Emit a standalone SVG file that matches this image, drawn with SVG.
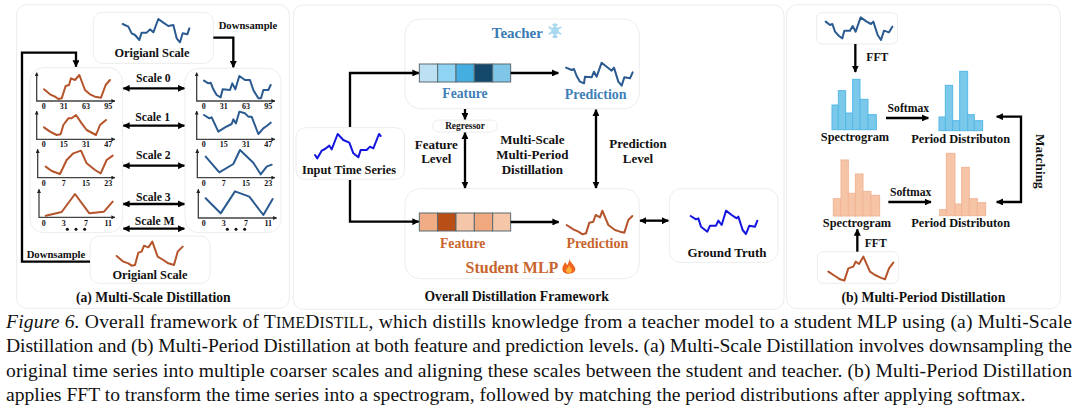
<svg xmlns="http://www.w3.org/2000/svg" width="1080" height="413" viewBox="0 0 1080 413">
<style>
text{font-family:"Liberation Serif","Times New Roman",serif;font-weight:bold;fill:#111;text-anchor:middle}
.p{fill:#fff;stroke:#ebebeb;stroke-width:3}
.b{fill:#fff;stroke:#ececec;stroke-width:3}
.t{font-size:37px}
.s{font-size:35px}
.k{font-size:24px}
.d{font-size:32px}
.l{font-size:39px}
.m{font-size:37px}
.h{font-size:41px}
.hb{fill:#3f7fb8;font-size:41px}
.ho{fill:#c8652e;font-size:41px}
.tb{fill:none;stroke:#2a5a90;stroke-width:6;stroke-linejoin:round;stroke-linecap:round}
.so{fill:none;stroke:#b5532a;stroke-width:6;stroke-linejoin:round;stroke-linecap:round}
.in{fill:none;stroke:#1414e0;stroke-width:6;stroke-linejoin:round;stroke-linecap:round}
.ax{fill:none;stroke:#444;stroke-width:4;marker-start:url(#ah);marker-end:url(#ah)}
.c{fill:none;stroke:#000;stroke-width:7}
.e{marker-end:url(#a)}
.w{marker-start:url(#a);marker-end:url(#a)}
.bb{fill:#7ac8ea;stroke:#56b9e6;stroke-width:3}
.bo{fill:#f6c5a8;stroke:#f2b596;stroke-width:3}
.cell{stroke:#5a6a70;stroke-width:3}
.cap{font-size:19.6px;font-weight:normal;text-anchor:start;fill:#111}
</style>
<defs>
<marker id="a" viewBox="0 0 10 10" refX="9" refY="5" markerWidth="3" markerHeight="3" orient="auto-start-reverse"><path d="M0 0L10 5L0 10Z" fill="#000"/></marker>
<marker id="ah" viewBox="0 0 10 10" refX="9" refY="5" markerWidth="3" markerHeight="3" orient="auto-start-reverse"><path d="M0 0L10 5L0 10Z" fill="#222"/></marker>
</defs>
<rect width="1080" height="413" fill="#fff"/>

<g transform="scale(.33333)">
<rect class="p" x="50" y="14" width="818" height="911" rx="30"/>
<g id="orig-top"><rect class="b" x="280" y="37" width="360" height="153" rx="28"/>
<polyline class="tb" points="368,72 385,80 395,100 405,105 418,120 425,98 440,98 450,88 460,97 475,57 490,68 505,78 520,75 530,115 540,127 548,100 562,103 568,85"/>
<text class="t" x="456" y="170">Origianl Scale</text></g>
<g id="student-scales"><rect class="b" x="90" y="203" width="277" height="495" rx="40"/>
<path class="ax" d="M110 218V303H345"/><path class="ax" d="M110 333V418H345"/><path class="ax" d="M113 448V533H345"/><path class="ax" d="M117 568V652H345"/>
<polyline class="so" points="132,268 150,283 165,290 175,297 185,295 197,258 207,255 213,235 225,240 238,225 255,270 270,283 285,290 303,293 317,255 330,240"/>
<polyline class="so" points="132,382 150,395 170,405 182,403 190,375 205,355 215,355 228,345 245,370 260,390 288,405 300,375 318,360"/>
<polyline class="so" points="137,500 155,513 180,522 200,480 220,460 243,452 260,490 285,510 302,520 320,480 338,467"/>
<polyline class="so" points="137,647 185,636 225,582 268,640 312,635 338,605"/>
<text class="k" x="131" y="327">0</text><text class="k" x="191" y="327">31</text><text class="k" x="258" y="327">63</text><text class="k" x="325" y="327">95</text>
<text class="k" x="131" y="440">0</text><text class="k" x="191" y="440">15</text><text class="k" x="258" y="440">31</text><text class="k" x="325" y="440">47</text>
<text class="k" x="131" y="557">0</text><text class="k" x="191" y="557">7</text><text class="k" x="258" y="557">15</text><text class="k" x="325" y="557">23</text>
<text class="k" x="131" y="677">0</text><text class="k" x="191" y="677">3</text><text class="k" x="258" y="677">7</text><text class="k" x="325" y="677">11</text>
<circle cx="202" cy="688" r="4.5" fill="#111"/><circle cx="228" cy="688" r="4.5" fill="#111"/><circle cx="254" cy="688" r="4.5" fill="#111"/></g>
<g id="teacher-scales"><rect class="b" x="555" y="205" width="288" height="493" rx="40"/>
<path class="ax" d="M590 218V303H825"/><path class="ax" d="M590 333V418H825"/><path class="ax" d="M592 448V533H825"/><path class="ax" d="M595 568V654H830"/>
<polyline class="tb" points="612,242 625,250 632,248 640,268 650,285 662,292 668,268 690,270 697,250 706,268 718,228 735,240 750,240 760,270 775,295 783,295 790,270 805,270 812,255"/>
<polyline class="tb" points="612,345 628,355 635,352 655,395 675,382 695,372 700,358 708,370 718,335 735,340 745,350 755,350 775,402 790,385 800,378 812,368"/>
<polyline class="tb" points="617,470 658,517 700,492 720,450 760,488 782,523 800,500 815,494"/>
<polyline class="tb" points="617,595 662,640 705,574 748,590 790,645 818,597"/>
<text class="k" x="611" y="327">0</text><text class="k" x="671" y="327">31</text><text class="k" x="738" y="327">63</text><text class="k" x="805" y="327">95</text>
<text class="k" x="611" y="440">0</text><text class="k" x="671" y="440">15</text><text class="k" x="738" y="440">31</text><text class="k" x="805" y="440">47</text>
<text class="k" x="611" y="557">0</text><text class="k" x="671" y="557">7</text><text class="k" x="738" y="557">15</text><text class="k" x="805" y="557">23</text>
<text class="k" x="611" y="677">0</text><text class="k" x="671" y="677">3</text><text class="k" x="738" y="677">7</text><text class="k" x="805" y="677">11</text>
<circle cx="682" cy="688" r="4.5" fill="#111"/><circle cx="708" cy="688" r="4.5" fill="#111"/><circle cx="734" cy="688" r="4.5" fill="#111"/></g>
<g id="orig-bottom"><rect class="b" x="270" y="708" width="360" height="142" rx="28"/>
<polyline class="so" points="350,768 370,785 385,790 395,797 405,795 415,758 425,755 432,737 445,742 457,725 473,770 490,780 505,790 522,795 533,755 548,740"/>
<text class="t" x="450" y="838">Origianl Scale</text></g>
<g id="scale-labels"><text class="s" x="460" y="245">Scale 0</text><text class="s" x="458" y="364">Scale 1</text><text class="s" x="460" y="478">Scale 2</text><text class="s" x="460" y="604">Scale 3</text><text class="s" x="464" y="676">Scale M</text>
<text class="d" x="744" y="88">Downsample</text><text class="d" x="168" y="773">Downsample</text>
<text class="h" x="460" y="907">(a) Multi-Scale Distillation</text></g>
</g>

<g transform="translate(290,0) scale(.33333)">
<rect class="p" x="10" y="15" width="1472" height="913" rx="30"/>
<g id="teacher"><rect class="b" x="345" y="57" width="703" height="269" rx="45"/>
<text x="682" y="113" style="font-size:45px;fill:#3a7ab5">Teacher</text>
<g id="snowflake" stroke="#a8d8f0" stroke-width="5" fill="none"><circle cx="795" cy="92" r="9"/><path d="M795 70V114M776 81L814 103M776 103L814 81M788 72L795 79L802 72M788 112L795 105L802 112"/></g>
<g class="cell"><rect x="388" y="192" width="55" height="54" fill="#bde0f2"/><rect x="443" y="192" width="55" height="54" fill="#8fd4f2"/><rect x="498" y="192" width="55" height="54" fill="#45aee0"/><rect x="553" y="192" width="55" height="54" fill="#14486b"/><rect x="608" y="192" width="54" height="54" fill="#7fc6e8"/></g>
<text class="hb" x="525" y="293">Feature</text><text class="hb" x="917" y="296" style="font-size:42px">Prediction</text>
<polyline class="tb" points="828,203 845,210 852,207 860,228 870,245 882,250 885,230 905,232 912,215 920,230 935,188 950,200 965,212 972,203 985,245 995,257 1003,232 1020,235 1028,217"/></g>
<g id="student"><rect class="b" x="345" y="566" width="703" height="270" rx="45"/>
<g class="cell"><rect x="388" y="639" width="55" height="54" fill="#f0ac85"/><rect x="443" y="639" width="55" height="54" fill="#b94f17"/><rect x="498" y="639" width="55" height="54" fill="#f5c6a8"/><rect x="553" y="639" width="55" height="54" fill="#f0a97f"/><rect x="608" y="639" width="54" height="54" fill="#f5c6a8"/></g>
<text class="ho" x="518" y="745">Feature</text><text class="ho" x="922" y="745" style="font-size:42px">Prediction</text>
<text x="666" y="820" style="font-size:48px;fill:#c8652e">Student MLP</text>
<g id="flame"><path d="M838 776C842 790 856 796 856 808C856 816 848 821 836 821C824 821 817 815 817 806C817 798 823 794 825 787C829 790 830 793 831 796C835 790 838 784 838 776Z" fill="#f0641e"/><path d="M837 796C840 803 846 806 846 811C846 816 842 819 836 819C830 819 827 815 828 810C830 806 835 803 837 796Z" fill="#fbb03b"/></g>
<polyline class="so" points="830,675 850,688 865,695 878,703 888,700 898,668 910,665 917,645 930,652 937,632 955,675 975,690 990,695 1003,698 1015,660 1027,648"/></g>
<g id="input"><rect class="b" x="18" y="383" width="326" height="155" rx="28"/>
<polyline class="in" points="75,465 82,475 95,452 105,447 118,437 125,448 143,402 160,420 178,428 190,460 205,472 212,450 230,450 240,440 250,445 267,402 272,408"/>
<text class="m" x="177" y="522">Input Time Series</text></g>
<g id="ground-truth"><rect class="b" x="1138" y="566" width="326" height="221" rx="35"/>
<polyline class="in" points="1202,648 1218,658 1225,655 1233,680 1252,695 1260,677 1278,677 1285,662 1295,675 1308,632 1325,645 1340,655 1345,650 1358,690 1368,702 1378,677 1395,680 1402,662"/>
<text class="l" x="1311" y="770">Ground Truth</text></g>
<g id="regressor"><rect class="b" x="428" y="360" width="194" height="36" rx="18"/><text x="525" y="386" style="font-size:28px">Regressor</text></g>
<g id="mid-labels"><text class="l" x="439" y="446">Feature</text><text class="l" x="439" y="490">Level</text>
<text class="l" x="727" y="433">Multi-Scale</text><text class="l" x="727" y="477">Multi-Period</text><text class="l" x="727" y="521">Distillation</text>
<text class="l" x="1044" y="443">Prediction</text><text class="l" x="1044" y="488">Level</text>
<text class="h" x="680" y="904">Overall Distillation Framework</text></g>
</g>

<g transform="translate(785,0) scale(.33333)">
<rect class="p" x="5" y="14" width="821" height="912" rx="30"/>
<g id="fft-top"><rect class="b" x="95" y="38" width="242" height="94" rx="16"/>
<polyline class="tb" points="122,65 135,75 142,72 150,95 162,108 172,115 178,92 195,92 203,78 212,95 227,52 245,65 258,72 265,65 278,105 288,120 297,92 312,97 322,80"/></g>
<g id="spec-teacher"><rect class="bb" x="141" y="315" width="19" height="74"/><rect class="bb" x="160" y="272" width="22" height="117"/><rect class="bb" x="182" y="339" width="21" height="50"/><rect class="bb" x="203" y="238" width="22" height="151"/><rect class="bb" x="225" y="298" width="24" height="91"/><rect class="bb" x="249" y="344" width="25" height="45"/>
<text class="m" x="210" y="424">Spectrogram</text></g>
<g id="period-teacher"><rect class="bb" x="462" y="351" width="19" height="41"/><rect class="bb" x="481" y="256" width="22" height="136"/><rect class="bb" x="503" y="362" width="21" height="30"/><rect class="bb" x="524" y="214" width="24" height="178"/><rect class="bb" x="548" y="344" width="20" height="48"/><rect class="bb" x="568" y="362" width="25" height="30"/>
<text class="m" x="527" y="429">Period Distributon</text></g>
<g id="spec-student"><rect class="bo" x="145" y="596" width="23" height="52"/><rect class="bo" x="168" y="480" width="22" height="168"/><rect class="bo" x="190" y="580" width="21" height="68"/><rect class="bo" x="211" y="522" width="23" height="126"/><rect class="bo" x="234" y="574" width="24" height="74"/><rect class="bo" x="258" y="586" width="26" height="62"/>
<text class="m" x="216" y="680">Spectrogram</text></g>
<g id="period-student"><rect class="bo" x="464" y="629" width="20" height="18"/><rect class="bo" x="484" y="460" width="26" height="187"/><rect class="bo" x="510" y="612" width="20" height="35"/><rect class="bo" x="530" y="502" width="23" height="145"/><rect class="bo" x="553" y="596" width="24" height="51"/><rect class="bo" x="577" y="608" width="25" height="39"/>
<text class="m" x="527" y="681">Period Distributon</text></g>
<g id="fft-bottom"><rect class="b" x="97" y="755" width="243" height="95" rx="16"/>
<polyline class="so" points="130,815 150,828 165,838 178,842 190,805 205,800 212,785 222,792 235,770 255,815 270,825 285,832 300,838 312,805 325,788"/></g>
<g id="right-labels"><text class="s" x="277" y="184">FFT</text><text class="s" x="272" y="742">FFT</text>
<text class="s" x="370" y="335">Softmax</text><text class="s" x="377" y="587">Softmax</text>
<text transform="translate(752,484) rotate(90)" style="font-size:40px">Matching</text>
<text class="h" x="415" y="906">(b) Multi-Period Distillation</text></g>
</g>

<g id="connectors">
<g transform="scale(.33333)">
<path class="c e" d="M640 113H700V202"/>
<path class="c e" d="M270 785H66V158H228V200"/>
<line class="c w" x1="370" y1="265" x2="553" y2="265"/><line class="c w" x1="370" y1="377" x2="553" y2="377"/><line class="c w" x1="370" y1="497" x2="553" y2="497"/><line class="c w" x1="370" y1="612" x2="553" y2="612"/><line class="c w" x1="370" y1="686" x2="553" y2="686"/>
</g>
<g transform="translate(290,0) scale(.33333)">
<path class="c e" d="M180 381V219H386"/><path class="c e" d="M180 540V665H386"/>
<line class="c e" x1="662" y1="219" x2="805" y2="219"/><line class="c e" x1="662" y1="666" x2="806" y2="666"/>
<line class="c e" x1="525" y1="327" x2="525" y2="358"/>
<line class="c w" x1="525" y1="398" x2="525" y2="564"/><line class="c w" x1="918" y1="329" x2="918" y2="564"/><line class="c w" x1="1050" y1="662" x2="1135" y2="662"/>
</g>
<g transform="translate(785,0) scale(.33333)">
<line class="c e" x1="211" y1="132" x2="211" y2="216"/><line class="c e" x1="217" y1="755" x2="217" y2="688"/>
<line class="c e" x1="303" y1="354" x2="430" y2="354"/><line class="c e" x1="310" y1="606" x2="438" y2="606"/>
<path class="c w" d="M635 350H708V606H635"/>
</g>
</g>

<g id="caption">
<text class="cap" x="6" y="328" textLength="1066"><tspan font-style="italic">Figure 6.</tspan> Overall framework of T<tspan font-size="15.7">IME</tspan>D<tspan font-size="15.7">ISTILL</tspan>, which distills knowledge from a teacher model to a student MLP using (a) Multi-Scale</text>
<text class="cap" x="6" y="352" textLength="1066">Distillation and (b) Multi-Period Distillation at both feature and prediction levels. (a) Multi-Scale Distillation involves downsampling the</text>
<text class="cap" x="6" y="377" textLength="1066">original time series into multiple coarser scales and aligning these scales between the student and teacher. (b) Multi-Period Distillation</text>
<text class="cap" x="6" y="401">applies FFT to transform the time series into a spectrogram, followed by matching the period distributions after applying softmax.</text>
</g>
</svg>
